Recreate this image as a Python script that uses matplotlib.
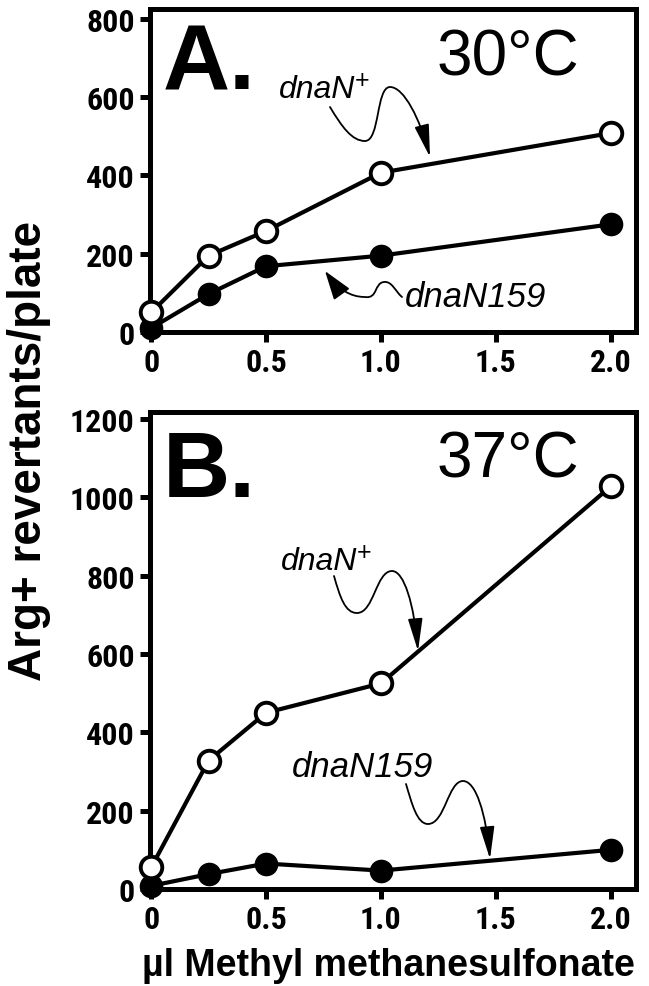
import matplotlib
matplotlib.use("Agg")
import matplotlib.pyplot as plt
from matplotlib.path import Path
from matplotlib.patches import FancyArrowPatch

# ---- data ----
mms_dose = [0, 0.25, 0.5, 1.0, 2.0]
a_dnaN_plus = [50, 195, 258, 407, 508]
a_dnaN159 = [10, 97, 168, 195, 275]
b_dnaN_plus = [55, 328, 450, 525, 1028]
b_dnaN159 = [8, 38, 65, 47, 100]
x_ticks = [0, 0.5, 1.0, 1.5, 2.0]
x_ticklabels = ["0", "0.5", "1.0", "1.5", "2.0"]
a_yticks = [0, 200, 400, 600, 800]
b_yticks = [0, 200, 400, 600, 800, 1000, 1200]

W, H = 649, 987
fig = plt.figure(figsize=(W / 100, H / 100), dpi=100)

NARROW = ["Roboto Condensed", "Barlow Semi Condensed", "DejaVu Sans"]
SANS = ["Liberation Sans", "Arimo", "Nimbus Sans", "DejaVu Sans"]


def ax_rect(l, t, r, b):
    return [l / W, 1 - b / H, (r - l) / W, (b - t) / H]


axA = fig.add_axes(ax_rect(150, 10, 636, 333))
axB = fig.add_axes(ax_rect(150, 413, 636, 890))


def style(ax, yticks, ylim):
    ax.set_xlim(-0.005, 2.11)
    ax.set_ylim(0, ylim)
    ax.set_xticks(x_ticks)
    ax.set_xticklabels(x_ticklabels)
    ax.set_yticks(yticks)
    ax.set_yticklabels([str(v) for v in yticks])
    for s in ax.spines.values():
        s.set_linewidth(3.6)
    ax.tick_params(direction="out", length=7, width=3.6, pad=4)
    for lab in ax.get_xticklabels() + ax.get_yticklabels():
        lab.set_family(NARROW)
        lab.set_fontweight("bold")
        lab.set_fontsize(23)


def series(ax, y_open, y_filled):
    ax.plot(mms_dose, y_filled, color="black", lw=3, marker="o", ms=16,
            mfc="black", mec="black", clip_on=False, zorder=3)
    ax.plot(mms_dose, y_open, color="black", lw=3, marker="o", ms=15.5,
            mfc="white", mec="black", mew=2.8, clip_on=False, zorder=4)


style(axA, a_yticks, 825)
style(axB, b_yticks, 1218)
series(axA, a_dnaN_plus, a_dnaN159)
series(axB, b_dnaN_plus, b_dnaN159)


def squiggle(ax, pts_px, top, bottom, ms=10, hl=2.0, hw=0.45):
    def f(p):
        return ((p[0] - 150) / (636 - 150), (bottom - p[1]) / (bottom - top))
    verts = [f(p) for p in pts_px]
    codes = [Path.MOVETO] + [Path.CURVE4] * (len(verts) - 1)
    arr = FancyArrowPatch(path=Path(verts, codes),
                          arrowstyle=f"-|>,head_length={hl},head_width={hw}",
                          mutation_scale=ms, lw=1.3, color="black",
                          transform=ax.transAxes, zorder=5)
    ax.add_patch(arr)


# Panel A annotations
fig.text(163 / W, 1 - 90 / H, "A.", family=SANS, fontweight="bold",
         fontsize=67, va="baseline", ha="left")
fig.text(579 / W, 1 - 75 / H, "30°C", family=SANS, fontsize=46,
         va="baseline", ha="right")
fig.text(279 / W, 1 - 98 / H, "dnaN", family=SANS, style="italic",
         fontsize=23, va="baseline", ha="left")
fig.text(355 / W, 1 - 88 / H, "+", family=SANS, fontsize=18,
         va="baseline", ha="left")
squiggle(axA, [(330, 108),
               (342, 128), (352, 142), (365, 142),
               (380, 142), (376, 88), (390, 88),
               (404, 88), (420, 120), (430, 158)], 10, 333)
fig.text(405 / W, 1 - 307 / H, "dnaN159", family=SANS, style="italic",
         fontsize=25, va="baseline", ha="left")
squiggle(axA, [(402, 298),
               (395, 292), (392, 282), (384, 283),
               (374, 284), (378, 300), (365, 298),
               (350, 298), (338, 290), (325, 272)], 10, 333,
         hl=1.8, hw=0.6)

# Panel B annotations
fig.text(163 / W, 1 - 497 / H, "B.", family=SANS, fontweight="bold",
         fontsize=67, va="baseline", ha="left")
fig.text(579 / W, 1 - 478 / H, "37°C", family=SANS, fontsize=46,
         va="baseline", ha="right")
fig.text(281 / W, 1 - 570 / H, "dnaN", family=SANS, style="italic",
         fontsize=23, va="baseline", ha="left")
fig.text(357 / W, 1 - 560 / H, "+", family=SANS, fontsize=18,
         va="baseline", ha="left")
squiggle(axB, [(334, 577),
               (340, 598), (345, 614), (357, 614),
               (374, 614), (376, 572), (392, 572),
               (404, 572), (414, 605), (418, 652)], 413, 890)
fig.text(292 / W, 1 - 777 / H, "dnaN159", family=SANS, style="italic",
         fontsize=25, va="baseline", ha="left")
squiggle(axB, [(406, 785),
               (412, 805), (417, 825), (428, 825),
               (445, 825), (448, 782), (463, 782),
               (476, 782), (486, 815), (490, 860)], 413, 890)

# axis labels
fig.text(29 / W, 1 - 451 / H, "Arg+ revertants/plate", family=SANS,
         fontweight="bold", fontsize=33, rotation=90, ha="center",
         va="center")
fig.text(388 / W, 1 - 976 / H, "\u00b5l Methyl methanesulfonate",
         family=SANS, fontweight="bold", fontsize=27, ha="center",
         va="baseline")

fig.savefig("out.png", dpi=100)
